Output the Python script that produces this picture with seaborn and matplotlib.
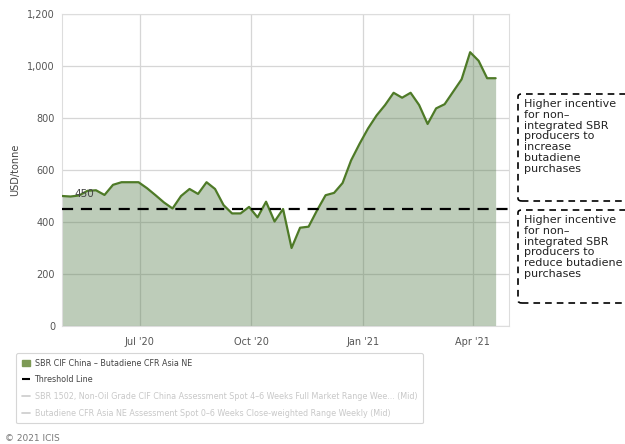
import matplotlib
matplotlib.use("Agg")
import matplotlib.pyplot as plt
import matplotlib.dates as mdates
from matplotlib.patches import Patch, FancyBboxPatch
from matplotlib.lines import Line2D
from matplotlib.ticker import FuncFormatter
import seaborn as sns
import pandas as pd

# ---- data ----
start_date = "2020-04-28"
n_weeks = 52
spread_values = [500, 498, 502, 520, 522, 504, 543, 553, 553, 553,
                 530, 503, 475, 452, 500, 527, 508, 553, 527, 465,
                 433, 433, 458, 418, 478, 402, 450, 300, 378, 382,
                 445, 503, 512, 550, 637, 701, 760, 810, 850, 897,
                 878, 897, 850, 777, 837, 853, 901, 949, 1053, 1020,
                 953, 953]
threshold = 450
y_ticks = [0, 200, 400, 600, 800, 1000, 1200]
x_tick_dates = ["2020-07-01", "2020-10-01", "2021-01-01", "2021-04-01"]
series_name = "SBR CIF China \u2013 Butadiene CFR Asia NE"
threshold_name = "Threshold Line"
extra_names = ["SBR 1502, Non-Oil Grade CIF China Assessment Spot 4\u20136 Weeks Full Market Range Wee... (Mid)",
               "Butadiene CFR Asia NE Assessment Spot 0\u20136 Weeks Close-weighted Range Weekly (Mid)"]
box_texts = ["Higher incentive\nfor non\u2013\nintegrated SBR\nproducers to\nincrease\nbutadiene\npurchases",
             "Higher incentive\nfor non\u2013\nintegrated SBR\nproducers to\nreduce butadiene\npurchases"]

dates = pd.date_range(start_date, periods=n_weeks, freq="7D")
df = pd.DataFrame({"date": dates, "value": spread_values})

sns.set_theme(style="white")
plt.rcParams["font.family"] = ["DejaVu Sans"]

fig = plt.figure(figsize=(6.25, 4.44), dpi=100)
ax = fig.add_axes([62/625, 1-326/444, (509-62)/625, (326-14)/444])

line_color = "#4e7a27"
ax.fill_between(df["date"], 0, df["value"], color="#5a8050", alpha=0.4, zorder=2, linewidth=0)
sns.lineplot(data=df, x="date", y="value", ax=ax, color=line_color, linewidth=1.6, zorder=3)

ax.axhline(threshold, color="black", linestyle=(0, (5, 3.5)), linewidth=1.6, zorder=4)
ax.text(pd.Timestamp("2020-05-08"), 498, str(threshold), fontsize=7.5, color="#444444", zorder=5)

ax.set_xlim(pd.Timestamp("2020-04-28"), pd.Timestamp("2021-05-01"))
ax.set_ylim(0, 1200)
ax.set_yticks(y_ticks)
ax.yaxis.set_major_formatter(FuncFormatter(lambda v, p: f"{int(v):,}"))
ax.set_xticks([pd.Timestamp(d) for d in x_tick_dates])
ax.xaxis.set_major_formatter(mdates.DateFormatter("%b '%y"))
ax.grid(True, color="#d6d6d6", linewidth=0.9)
for gl in ax.get_xgridlines() + ax.get_ygridlines():
    gl.set_zorder(1)
for s in ax.spines.values():
    s.set_color("#dddddd")
    s.set_linewidth(0.8)
ax.tick_params(axis="both", labelsize=7, colors="#555555", length=0, pad=5)
ax.tick_params(axis="x", length=3, color="#cccccc")
ax.set_xlabel("")
ax.set_ylabel("USD/tonne", fontsize=7, color="#444444", labelpad=5)

# annotation boxes
for (y0, y1), txt in zip([(94, 201), (210, 303)], box_texts):
    patch = FancyBboxPatch((518/625, 1-y1/444), 0.3, (y1-y0)/444,
                           boxstyle="round,pad=0,rounding_size=0.006",
                           transform=fig.transFigure, fill=False,
                           edgecolor="black", linestyle=(0, (4, 3)), linewidth=1.2,
                           clip_on=False)
    fig.patches.append(patch)
    fig.text(524/625, 1-(y0+5)/444, txt, fontsize=8, color="#222222",
             va="top", ha="left", linespacing=1.1)

# legend
handles = [Patch(facecolor="#7d9a55", edgecolor="#7d9a55"),
           Line2D([0], [0], color="black", linestyle=(0, (4, 2, 1, 2)), linewidth=1.5),
           Line2D([0], [0], color="#cccccc", linewidth=1.2),
           Line2D([0], [0], color="#cccccc", linewidth=1.2)]
labels = [series_name, threshold_name] + extra_names
leg = fig.legend(handles, labels, loc="upper left", bbox_to_anchor=(12/625, 1-349/444),
                 fontsize=5.8, frameon=True, fancybox=True, handlelength=1.0,
                 handletextpad=0.6, labelspacing=0.95, borderpad=0.7)
leg.get_frame().set_edgecolor("#cccccc")
leg.get_frame().set_linewidth(0.8)
for t, c in zip(leg.get_texts(), ["#444444", "#444444", "#c8c8c8", "#c8c8c8"]):
    t.set_color(c)

fig.text(5/625, 1-438/444, "\u00a9 2021 ICIS", fontsize=6.5, color="#777777", va="center")

fig.savefig("out.png", dpi=100)
